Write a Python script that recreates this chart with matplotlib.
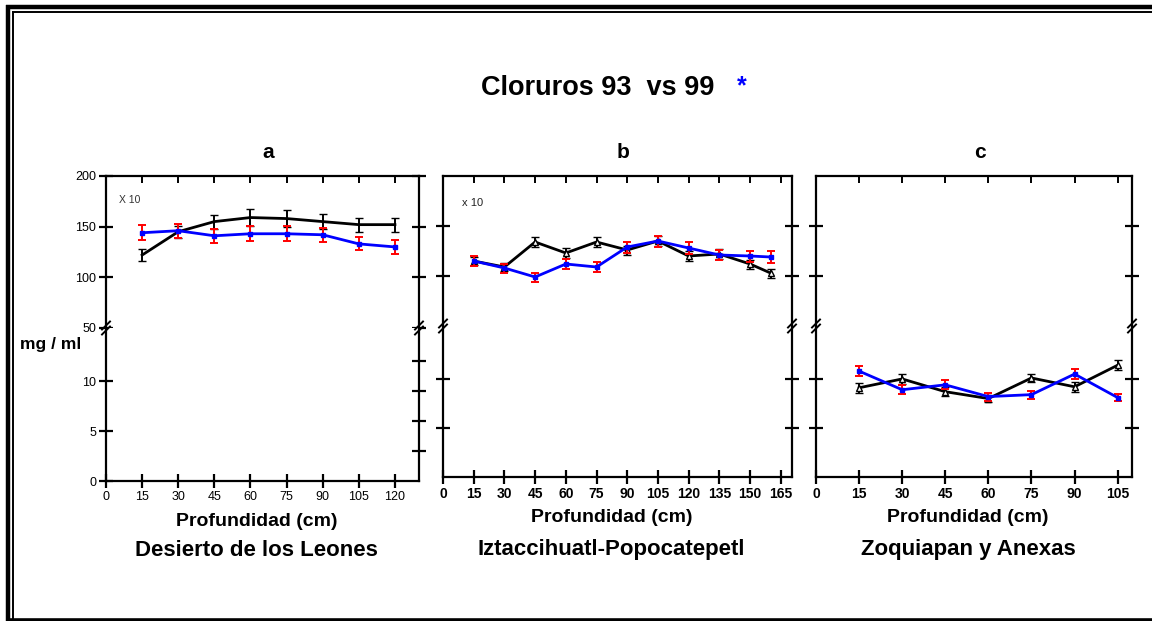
import matplotlib
matplotlib.use("Agg")
import matplotlib.pyplot as plt
from matplotlib.lines import Line2D

plt.rcParams['font.family'] = ['Liberation Sans', 'DejaVu Sans']

W, H = 1152, 621

# --- data: depth (cm) vs chloride (mg/ml), 1993 (black) vs 1999 (blue) ---
depth_a = [15, 30, 45, 60, 75, 90, 105, 120]
y93_a = [122, 145, 155, 159, 158, 155, 152, 152]
e93_a = [5.5, 6, 7, 8.5, 8, 7.5, 7, 7]
y99_a = [144, 146, 141, 143, 143, 142, 133, 130]
e99_a = [7.5, 7, 7, 7.5, 7.5, 7, 6.5, 6.5]

depth_b = [15, 30, 45, 60, 75, 90, 105, 120, 135, 150, 160]
y93_b = [115, 109, 134, 123, 134, 126, 135, 120, 122, 112, 103]
e93_b = [4, 4, 5, 5, 5, 4.5, 5, 5, 5, 4.5, 4.5]
y99_b = [115, 108, 99, 112, 109, 129, 135, 128, 121, 120, 119]
e99_b = [5, 4.5, 4.5, 5, 5, 5.5, 5.5, 6, 5, 5.5, 6]

depth_c = [15, 30, 45, 60, 75, 90, 105]
y93_c = [9.1, 10.0, 8.7, 8.0, 10.1, 9.2, 11.4]
e93_c = [0.5, 0.5, 0.45, 0.4, 0.45, 0.5, 0.5]
y99_c = [10.8, 8.9, 9.4, 8.2, 8.4, 10.5, 8.1]
e99_c = [0.5, 0.45, 0.45, 0.4, 0.4, 0.5, 0.35]

xticks_a = list(range(0, 121, 15))
xticks_b = list(range(0, 166, 15))
xticks_c = list(range(0, 106, 15))

sites = ["Desierto de los Leones", "Iztaccihuatl-Popocatepetl", "Zoquiapan y Anexas"]
letters = ["a", "b", "c"]


def rect(x0, yt, x1, yb):
    return [x0 / W, 1 - yb / H, (x1 - x0) / W, (yb - yt) / H]


def fx(x):
    return x / W


def fy(y):
    return 1 - y / H


def fline(xs, ys, lw):
    fig.add_artist(Line2D([fx(v) for v in xs], [fy(v) for v in ys],
                          transform=fig.transFigure, lw=lw, color='black',
                          solid_capstyle='butt'))


fig = plt.figure(figsize=(W / 100, H / 100), dpi=100)

# frame: thick outer + thin inner on left/top, thick bottom, open right
fline([8, 8], [5, 621], 3.2)
fline([6, 1152], [7, 7], 3.2)
fline([6, 1152], [619.5, 619.5], 2.6)
fline([13, 13], [11, 621], 1.4)
fline([12, 1152], [12, 12], 1.4)

panels = [
    dict(x0=106, x1=419, brk=328, bot=481, xmax=130, lo_top=15.3,
         x=depth_a, y93=y93_a, e93=e93_a, y99=y99_a, e99=e99_a, xt=xticks_a),
    dict(x0=443, x1=792, brk=326, bot=477, xmax=170.5, lo_top=15.4,
         x=depth_b, y93=y93_b, e93=e93_b, y99=y99_b, e99=e99_b, xt=xticks_b),
    dict(x0=816, x1=1132, brk=326, bot=477, xmax=110, lo_top=15.4,
         x=depth_c, y93=y93_c, e93=e93_c, y99=y99_c, e99=e99_c, xt=xticks_c),
]

lw_sp = 1.6


def break_marks(ax):
    bb = ax.get_position()
    w_px, h_px = bb.width * W, bb.height * H
    for xa in (0, 1):
        for off in (-2.5, 2.5):
            dx, dy = 4 / w_px, 4 / h_px
            o = off / h_px
            ax.add_line(Line2D([xa - dx, xa + dx], [1 + o - dy, 1 + o + dy],
                               transform=ax.transAxes, color='black', lw=1.4, clip_on=False, zorder=5))


for i, p in enumerate(panels):
    up = fig.add_axes(rect(p['x0'], 176, p['x1'], p['brk']))
    lo = fig.add_axes(rect(p['x0'], p['brk'], p['x1'], p['bot']))
    mk93 = None if i == 0 else '^'
    for ax in (up, lo):
        ax.set_xlim(0, p['xmax'])
        for s in ax.spines.values():
            s.set_linewidth(lw_sp)
        ax.errorbar(p['x'], p['y93'], yerr=p['e93'], color='black', ecolor='black', lw=2,
                    elinewidth=1.4, capsize=3, capthick=1.4, marker=mk93, ms=4,
                    mfc='white', mec='black', mew=1, zorder=3)
        ax.errorbar(p['x'], p['y99'], yerr=p['e99'], color='blue', ecolor='red', lw=2,
                    elinewidth=1.4, capsize=3, capthick=1.4, marker='s', ms=2.5,
                    mfc='blue', mec='blue', zorder=4)
    up.set_ylim(50, 200)
    lo.set_ylim(0, p['lo_top'])
    up.spines['bottom'].set_visible(False)
    lo.spines['top'].set_visible(False)

    # top axis: ticks pointing inwards on top spine
    up.set_xticks(p['xt'][1:])
    up.tick_params(axis='x', bottom=False, top=True, labelbottom=False, direction='in',
                   length=5, width=1.4)
    lo.set_xticks(p['xt'])
    lo.tick_params(axis='x', direction='inout', length=10, width=1.6, pad=2)

    if i == 0:
        up.set_yticks([50, 100, 150, 200])
        up.tick_params(axis='y', direction='inout', length=10, width=1.6, right=True,
                       labelsize=9, pad=2)
        lo.set_yticks([0, 5, 10])
        lo.tick_params(axis='y', direction='inout', length=10, width=1.6, labelsize=9, pad=2)
        tw = lo.twinx()
        tw.set_ylim(lo.get_ylim())
        tw.set_yticks([3, 6, 9, 12])
        tw.tick_params(axis='y', direction='inout', length=10, width=1.6, labelright=False)
        for s in tw.spines.values():
            s.set_visible(False)
        for t in lo.get_xticklabels():
            t.set_fontsize(9)
        up.text(0.04, 0.82, "X 10", transform=up.transAxes, fontsize=7.5, color='#333333')
    else:
        up.set_yticks([100, 150])
        lo.set_yticks([5, 10])
        for ax in (up, lo):
            ax.tick_params(axis='y', direction='inout', length=10, width=1.6, right=True,
                           labelleft=False)
        for t in lo.get_xticklabels():
            t.set_fontsize(10)
            t.set_fontweight('bold')
        if i == 1:
            up.text(0.055, 0.8, "x 10", transform=up.transAxes, fontsize=8, color='#222222')

    break_marks(lo)

    cx = (p['x0'] + p['x1']) / 2
    fig.text(fx(cx + 6), fy(152), letters[i], ha='center', va='center',
             fontsize=15, fontweight='bold')
    fig.text(fx(cx - 6), fy(p['bot'] + 40), "Profundidad (cm)", ha='center', va='center',
             fontsize=14, fontweight='bold')
    fig.text(fx(cx - 6), fy(550), sites[i], ha='center', va='center',
             fontsize=16, fontweight='bold')

fig.text(fx(598), fy(88), "Cloruros 93  vs 99", ha='center', va='center',
         fontsize=19.5, fontweight='bold')
fig.text(fx(742), fy(86), "*", ha='center', va='center', fontsize=18,
         fontweight='bold', color='blue')
fig.text(fx(51), fy(345), "mg / ml", ha='center', va='center', fontsize=12.5,
         fontweight='bold')

fig.savefig("out.png", dpi=100)
